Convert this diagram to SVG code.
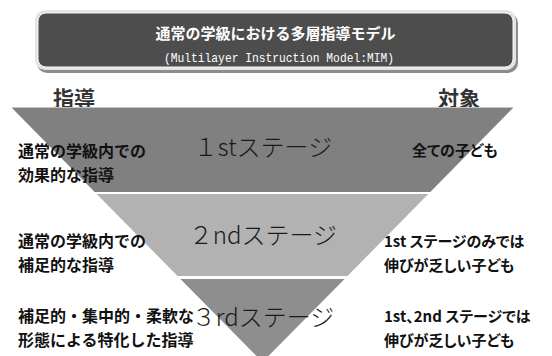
<svg xmlns="http://www.w3.org/2000/svg" width="552" height="356" viewBox="0 0 552 356">
<style>
.jp{font-family:"Noto Sans CJK JP","Noto Sans",sans-serif}
.lbl{font-size:16px;font-weight:bold;fill:#111}
.tgt{font-size:15px;font-weight:bold;fill:#111;font-feature-settings:"palt"}
.stage{font-size:24px;font-weight:300;fill:#1a1a1a;text-anchor:middle}
.head{font-size:21px;font-weight:bold;fill:#333}
</style>
<rect width="552" height="356" fill="#fff"/>
<g id="title">
  <rect x="37" y="13" width="481" height="60" rx="10" fill="#8c8c8c"/>
  <rect x="35" y="10" width="481" height="60" rx="10" fill="#e4e4e4"/>
  <rect x="38" y="13" width="475" height="54" rx="8" fill="#4d4d4d" stroke="#f6f6f6" stroke-width="1"/>
  <text class="jp" x="275.5" y="39" text-anchor="middle" font-size="15" font-weight="bold" fill="#fff">通常の学級における多層指導モデル</text>
  <text x="164" y="62" textLength="230" lengthAdjust="spacingAndGlyphs" font-family="'Liberation Mono','DejaVu Sans Mono',monospace" font-size="13" fill="#fff">(Multilayer Instruction Model:MIM)</text>
</g>
<g id="header-left"><text class="jp head" x="53" y="106">指導</text></g>
<g id="header-right"><text class="jp head" x="438" y="106">対象</text></g>
<g id="stage1">
  <polygon points="12,108 513,108 430.3,192 94.7,192" fill="#808080"/>
  <line x1="12" y1="107.5" x2="513" y2="107.5" stroke="#c4c4c4" stroke-width="1"/>
  <text class="jp stage" x="263" y="156">１stステージ</text>
</g>
<g id="stage2">
  <polygon points="96.7,194 428.3,194 347.5,276 177.5,276" fill="#b2b2b2"/>
  <text class="jp stage" x="263" y="244">２ndステージ</text>
</g>
<g id="stage3">
  <polygon points="180.4,279 344.6,279 262.5,362" fill="#8e8e8e"/>
  <text class="jp stage" x="263" y="326">３rdステージ</text>
</g>
<g id="guidance1">
  <text class="jp lbl" x="18" y="157">通常の学級内での</text>
  <text class="jp lbl" x="18" y="181">効果的な指導</text>
</g>
<g id="target1">
  <text class="jp tgt" x="412" y="156">全ての子ども</text>
</g>
<g id="guidance2">
  <text class="jp lbl" x="18" y="247">通常の学級内での</text>
  <text class="jp lbl" x="18" y="271">補足的な指導</text>
</g>
<g id="target2">
  <text class="jp tgt" x="384" y="247">1st ステージのみでは</text>
  <text class="jp tgt" x="384" y="271">伸びが乏しい子ども</text>
</g>
<g id="guidance3">
  <text class="jp lbl" x="18" y="322">補足的・集中的・柔軟な</text>
  <text class="jp lbl" x="18" y="346">形態による特化した指導</text>
</g>
<g id="target3">
  <text class="jp tgt" x="384" y="322">1st、2nd ステージでは</text>
  <text class="jp tgt" x="384" y="346">伸びが乏しい子ども</text>
</g>
<g id="connectors"/>
</svg>
